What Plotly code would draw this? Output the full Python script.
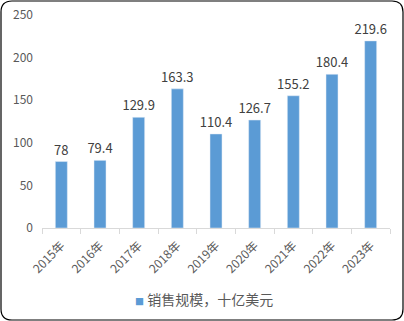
import plotly.graph_objects as go

years = ["2015年", "2016年", "2017年", "2018年", "2019年", "2020年", "2021年", "2022年", "2023年"]
sales = [78, 79.4, 129.9, 163.3, 110.4, 126.7, 155.2, 180.4, 219.6]
labels = ["78", "79.4", "129.9", "163.3", "110.4", "126.7", "155.2", "180.4", "219.6"]
series_name = "销售规模，十亿美元"

W, H = 404, 321
L, R, T, B = 42, 14, 15, 93
pw, ph = W - L - R, H - T - B

def px(x):
    return (x - L) / pw

def py(y):
    return (H - B - y) / ph

fig = go.Figure()
fig.add_trace(go.Bar(
    x=years, y=sales, name=series_name,
    marker_color="#5b9bd5",
    text=labels, textposition="outside", cliponaxis=False,
    textfont=dict(size=13, color="#404040"),
    showlegend=False,
))

# rounded border
x0, x1, y0, y1, r = 1, 403, 1, 320, 11
path = (f"M {px(x0+r)},{py(y0)} L {px(x1-r)},{py(y0)} "
        f"Q {px(x1)},{py(y0)} {px(x1)},{py(y0+r)} "
        f"L {px(x1)},{py(y1-r)} Q {px(x1)},{py(y1)} {px(x1-r)},{py(y1)} "
        f"L {px(x0+r)},{py(y1)} Q {px(x0)},{py(y1)} {px(x0)},{py(y1-r)} "
        f"L {px(x0)},{py(y0+r)} Q {px(x0)},{py(y0)} {px(x0+r)},{py(y0)} Z")
fig.add_shape(type="path", path=path, xref="paper", yref="paper",
              line=dict(color="#000000", width=1.2))

# legend (square + text)
fig.add_annotation(
    x=px(204), y=py(299), xref="paper", yref="paper",
    xanchor="center", yanchor="middle", showarrow=False,
    text=f"<span style='color:#5b9bd5;font-size:9px'>■</span> {series_name}",
    font=dict(size=14, color="#595959"),
)

fig.update_layout(
    width=W, height=H,
    margin=dict(l=L, r=R, t=T, b=B, autoexpand=False),
    paper_bgcolor="white", plot_bgcolor="white",
    font=dict(family="Noto Sans CJK SC, sans-serif", color="#595959", size=12),
    bargap=0.69,
    uniformtext=dict(minsize=13, mode="show"),
    xaxis=dict(showline=True, linecolor="#d9d9d9", linewidth=1, automargin=False,
               ticks="outside", tickson="boundaries", ticklen=5, tickcolor="#d9d9d9",
               tickangle=-45, tickfont=dict(size=12, color="#595959"),
               ticklabelstandoff=5),
    yaxis=dict(range=[0, 250], dtick=50, showgrid=False, zeroline=False, automargin=False,
               showline=False, tickfont=dict(size=12, color="#595959"), ticklabelstandoff=8),
)

fig.write_html("out.html")
